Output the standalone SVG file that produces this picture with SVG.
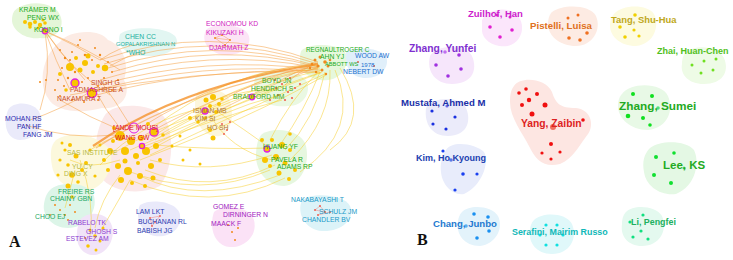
<svg xmlns="http://www.w3.org/2000/svg" width="733" height="260" viewBox="0 0 733 260">
<style>
text{font-family:"Liberation Sans",Arial,sans-serif}
.la{font-size:6.8px}
.lb{font-weight:bold}
.c{fill:none;stroke-width:0.75;opacity:0.7}
.o{stroke:#f5a040}
.y{stroke:#f8d030}
.yd{fill:#f8c400}
.od{fill:#f08a1c}
.rd{fill:#f06050}
.ring{fill:#f8c400;stroke:#e020e0;stroke-width:1.3}
.pan{font-family:"Liberation Serif","Times New Roman",serif;font-weight:bold;font-size:16px;fill:#111}
</style>
<rect width="733" height="260" fill="#fff"/>

<!-- Panel A blobs -->
<g id="blobsA">
<path d="M18,8 C30,0 55,2 60,15 C66,28 55,40 40,38 C25,40 12,30 12,20 C12,14 14,10 18,8Z" fill="#e4f6d8"/>
<path d="M120,34 C130,26 165,26 175,36 C182,46 170,56 150,56 C130,57 115,48 120,34Z" fill="#e2f6f2"/>
<path d="M60,42 C68,30 100,28 108,40 C122,45 130,62 124,80 C132,94 122,110 102,108 C82,114 55,112 48,98 C38,84 42,55 60,42Z" fill="#fcebe4"/>
<path d="M8,110 C14,100 36,102 40,114 C44,128 34,140 20,140 C8,140 2,126 8,110Z" fill="#eaeafa"/>
<path d="M105,115 C115,100 160,104 166,120 C175,140 172,170 160,186 C140,196 110,192 100,176 C92,160 95,130 105,115Z" fill="#fbe8e8"/>
<path d="M56,140 C70,130 100,135 110,150 C115,166 105,186 90,190 C70,192 55,182 52,166 C50,155 50,146 56,140Z" fill="#fcf8dc"/>
<path d="M50,190 C60,180 90,182 94,196 C98,212 85,228 68,228 C52,228 42,215 44,204 C45,197 47,193 50,190Z" fill="#dcf5e8"/>
<path d="M80,220 C88,210 108,212 112,226 C116,242 104,256 92,255 C80,254 72,240 80,220Z" fill="#f1e3f8"/>
<path d="M140,205 C152,198 178,202 180,215 C182,230 168,238 155,236 C142,234 134,218 140,205Z" fill="#e9e9fa"/>
<path d="M206,30 C214,22 242,24 248,34 C254,46 240,56 225,55 C210,54 200,42 206,30Z" fill="#fce4f6"/>
<path d="M198,92 C208,86 228,90 230,102 C234,114 232,132 220,136 C205,138 195,124 195,110 C195,102 195,96 198,92Z" fill="#fcf6dc"/>
<path d="M258,74 C270,68 298,70 306,80 C312,92 304,106 288,106 C270,108 255,100 254,88 C254,80 255,76 258,74Z" fill="#eaf8e2"/>
<path d="M302,50 C312,42 338,44 345,52 C350,62 344,78 328,80 C312,82 300,72 300,62 C300,56 300,52 302,50Z" fill="#e6f8dc"/>
<path d="M346,52 C356,46 380,48 386,56 C390,66 382,78 366,78 C352,78 344,68 346,52Z" fill="#e0effa"/>
<path d="M262,134 C275,126 302,130 306,146 C310,164 302,184 284,186 C266,186 256,170 256,156 C256,146 258,138 262,134Z" fill="#e6f7df"/>
<path d="M214,212 C224,204 250,206 254,220 C258,236 244,248 230,247 C216,246 208,230 214,212Z" fill="#fbe2f6"/>
<path d="M302,200 C312,192 344,194 350,206 C356,220 340,232 322,231 C306,230 296,214 302,200Z" fill="#dcf3f8"/>
</g>

<!-- Connectors -->
<g id="connectors">
<path class="c o" d="M100,60 Q210,22 318,62"/>
<path class="c o" d="M104,64 Q212,28 318,64"/>
<path class="c o" d="M108,68 Q214,34 318,66"/>
<path class="c o" d="M112,72 Q216,40 319,67"/>
<path class="c o" d="M100,80 Q210,46 318,68"/>
<path class="c o" d="M96,86 Q206,54 320,70"/>
<path class="c o" d="M90,92 Q200,60 320,72"/>
<path class="c o" d="M85,98 Q200,66 321,73"/>
<path class="c o" d="M70,95 Q190,70 318,70"/>
<path class="c o" d="M45,31 Q55,60 70,90"/>
<path class="c o" d="M45,31 Q62,55 85,80"/>
<path class="c o" d="M45,31 Q75,45 100,60"/>
<path class="c o" d="M45,31 Q52,75 40,110"/>
<path class="c o" d="M45,31 Q70,70 110,95"/>
<path class="c o" d="M45,31 Q90,50 120,70"/>
<path class="c o" d="M100,60 Q120,46 140,44"/>
<path class="c o" d="M110,66 Q126,56 146,50"/>
<path class="c o" d="M60,100 Q90,118 120,130"/>
<path class="c o" d="M120,128 Q105,110 95,90"/>
<path class="c o" d="M130,125 Q115,100 100,80"/>
<path class="c o" d="M30,120 Q60,110 90,92"/>
<path class="c o" d="M25,125 Q70,140 115,135"/>
<path class="c y" d="M150,130 Q230,68 318,65"/>
<path class="c y" d="M155,135 Q240,78 320,68"/>
<path class="c y" d="M150,140 Q240,88 322,70"/>
<path class="c y" d="M145,150 Q240,98 322,72"/>
<path class="c y" d="M150,155 Q250,108 325,74"/>
<path class="c y" d="M140,160 Q250,118 326,75"/>
<path class="c o" d="M140,128 Q225,74 316,63"/>
<path class="c o" d="M145,135 Q235,84 318,68"/>
<path class="c y" d="M130,150 Q235,104 320,73"/>
<path class="c y" d="M155,140 Q220,100 278,88"/>
<path class="c y" d="M150,150 Q220,110 280,95"/>
<path class="c y" d="M145,146 Q215,118 282,100"/>
<path class="c y" d="M155,145 Q210,150 270,148"/>
<path class="c y" d="M150,160 Q210,176 272,155"/>
<path class="c y" d="M145,170 Q210,196 275,165"/>
<path class="c y" d="M140,176 Q200,206 280,175"/>
<path class="c y" d="M130,180 Q210,215 285,178"/>
<path class="c y" d="M125,170 Q200,200 270,170"/>
<path class="c y" d="M320,72 Q305,110 280,145"/>
<path class="c y" d="M325,72 Q315,120 285,150"/>
<path class="c y" d="M330,70 Q332,120 290,160"/>
<path class="c y" d="M335,70 Q362,130 300,172"/>
<path class="c y" d="M340,68 Q372,120 330,150"/>
<path class="c y" d="M318,72 Q290,100 270,140"/>
<path class="c o" d="M315,65 Q260,76 215,105"/>
<path class="c o" d="M318,67 Q266,86 216,112"/>
<path class="c o" d="M318,62 Q300,70 285,85"/>
<path class="c o" d="M316,64 Q290,74 278,82"/>
<path class="c y" d="M215,110 Q245,130 270,148"/>
<path class="c y" d="M210,115 Q230,150 272,160"/>
<path class="c y" d="M215,100 Q250,88 278,90"/>
<path class="c y" d="M90,150 Q105,140 120,135"/>
<path class="c y" d="M120,175 Q100,200 95,228"/>
<path class="c y" d="M130,180 Q112,212 100,232"/>
<path class="c y" d="M75,170 Q70,190 65,208"/>
<path class="c y" d="M80,160 Q95,200 90,236"/>
<path class="c y" d="M120,160 Q90,170 70,160"/>
<path class="c y" d="M100,165 Q140,120 215,105"/>
<path class="c y" d="M110,155 Q160,125 210,112"/>
<path d="M93,146 Q180,86 318,64" fill="none" stroke="#f5922a" stroke-width="2.2" opacity="0.8"/>
<path d="M96,148 Q185,90 320,66" fill="none" stroke="#f7a848" stroke-width="1.2" opacity="0.65"/>
<path d="M215,38 L225,45 L230,40 L222,35 Z M215,38 L230,40" fill="none" stroke="#f0a060" stroke-width="0.5"/>
<path d="M150,218 L160,216 L152,226 Z" fill="none" stroke="#f08080" stroke-width="0.5"/>
<path d="M315,210 L325,212 L320,206 Z M318,215 L330,212" fill="none" stroke="#f08080" stroke-width="0.5"/>
</g>

<!-- Panel A nodes -->
<g id="nodesA">
<g id="n-kramer">
<circle class="yd" cx="25" cy="22" r="2"/><circle class="yd" cx="30" cy="24" r="2.3"/><circle class="yd" cx="35" cy="22" r="2"/><circle class="yd" cx="40" cy="25" r="2.2"/><circle class="yd" cx="45" cy="23" r="1.8"/><circle class="yd" cx="30" cy="27" r="1.8"/><circle class="yd" cx="38" cy="28" r="1.6"/><circle class="yd" cx="43" cy="20" r="1.6"/><circle class="ring" cx="45" cy="31" r="2.8"/>
</g>
<g id="n-singh">
<circle class="od" cx="60" cy="50" r="1"/><circle class="od" cx="65" cy="58" r="1.2"/><circle class="od" cx="72" cy="52" r="1"/><circle class="od" cx="78" cy="45" r="1"/><circle class="od" cx="85" cy="55" r="1.3"/><circle class="od" cx="70" cy="60" r="1"/><circle class="od" cx="62" cy="68" r="1"/><circle class="od" cx="75" cy="72" r="1.2"/><circle class="od" cx="92" cy="60" r="1"/><circle class="od" cx="95" cy="48" r="1"/><circle class="od" cx="100" cy="55" r="1.2"/><circle class="od" cx="58" cy="80" r="1"/><circle class="od" cx="64" cy="86" r="1"/><circle class="od" cx="68" cy="78" r="1.2"/><circle class="od" cx="82" cy="82" r="1"/><circle class="od" cx="88" cy="78" r="1"/><circle class="od" cx="98" cy="86" r="1"/><circle class="od" cx="104" cy="78" r="1"/><circle class="od" cx="108" cy="62" r="1"/><circle class="od" cx="112" cy="72" r="1"/><circle class="od" cx="55" cy="90" r="1"/><circle class="od" cx="60" cy="96" r="1"/><circle class="od" cx="72" cy="100" r="1"/><circle class="od" cx="84" cy="102" r="1"/><circle class="od" cx="98" cy="100" r="1"/><circle class="od" cx="112" cy="90" r="1"/><circle class="od" cx="46" cy="80" r="1"/><circle class="od" cx="40" cy="82" r="1"/><circle class="od" cx="80" cy="40" r="1"/><circle class="od" cx="118" cy="80" r="1"/>
<circle class="yd" cx="70" cy="67" r="4"/><circle class="yd" cx="80" cy="70" r="2.5"/><circle class="yd" cx="85" cy="63" r="3"/><circle class="yd" cx="105" cy="68" r="3.2"/><circle class="yd" cx="93" cy="72" r="2"/><circle class="yd" cx="60" cy="74" r="2"/><circle class="yd" cx="88" cy="56" r="2.5"/><circle class="yd" cx="98" cy="66" r="2"/><circle class="yd" cx="76" cy="58" r="2"/><circle class="yd" cx="66" cy="90" r="1.8"/>
<circle class="ring" cx="75" cy="83" r="4"/><circle class="ring" cx="92" cy="93" r="4.6"/>
</g>
<g id="n-ande">
<circle class="yd" cx="120" cy="136" r="5"/><circle class="yd" cx="131" cy="141" r="4"/><circle class="yd" cx="141" cy="138" r="3"/><circle class="yd" cx="125" cy="151" r="4"/><circle class="yd" cx="136" cy="156" r="3"/><circle class="yd" cx="146" cy="151" r="4"/><circle class="yd" cx="151" cy="166" r="3"/><circle class="yd" cx="118" cy="166" r="3"/><circle class="yd" cx="128" cy="171" r="4"/><circle class="yd" cx="140" cy="176" r="3"/><circle class="yd" cx="110" cy="151" r="3"/><circle class="yd" cx="156" cy="146" r="3"/><circle class="yd" cx="160" cy="160" r="2"/><circle class="yd" cx="114" cy="128" r="2"/><circle class="yd" cx="148" cy="124" r="2"/><circle class="yd" cx="132" cy="183" r="2"/><circle class="yd" cx="121" cy="180" r="3"/><circle class="yd" cx="108" cy="170" r="2"/><circle class="yd" cx="145" cy="186" r="2"/><circle class="yd" cx="113" cy="141" r="2"/><circle class="yd" cx="138" cy="163" r="2"/><circle class="yd" cx="153" cy="178" r="2.5"/><circle class="yd" cx="125" cy="161" r="2.5"/><circle class="yd" cx="104" cy="160" r="2"/><circle class="yd" cx="163" cy="135" r="1.8"/>
<circle class="ring" cx="154" cy="132" r="4.2"/><circle class="ring" cx="142" cy="146" r="2.6"/><circle cx="134" cy="128" r="5" fill="none" stroke="#e020e0" stroke-width="1"/>
</g>
<g id="n-sas">
<circle class="yd" cx="65" cy="150" r="1.6"/><circle class="yd" cx="70" cy="145" r="2"/><circle class="yd" cx="76" cy="156" r="2.5"/><circle class="yd" cx="60" cy="160" r="1.6"/><circle class="yd" cx="68" cy="165" r="1.8"/><circle class="yd" cx="82" cy="170" r="2"/><circle class="yd" cx="72" cy="175" r="2.8"/><circle class="yd" cx="86" cy="163" r="2"/><circle class="yd" cx="90" cy="150" r="1.6"/><circle class="yd" cx="58" cy="175" r="1.6"/><circle class="yd" cx="95" cy="176" r="1.6"/><circle class="yd" cx="78" cy="182" r="1.8"/><circle class="yd" cx="68" cy="186" r="2.5"/><circle class="yd" cx="100" cy="145" r="1.5"/><circle class="yd" cx="62" cy="143" r="1.5"/>
</g>
<g id="n-freire">
<circle class="yd" cx="72" cy="197" r="1.8"/><circle class="od" cx="60" cy="210" r="1"/><circle class="od" cx="65" cy="215" r="1"/><circle class="od" cx="70" cy="205" r="1"/><circle class="od" cx="75" cy="212" r="1"/><circle class="od" cx="55" cy="205" r="1"/><circle class="od" cx="50" cy="215" r="1"/><circle class="od" cx="68" cy="220" r="1"/>
</g>
<g id="n-rabelo">
<circle class="yd" cx="90" cy="230" r="1.5"/><circle class="yd" cx="95" cy="236" r="1.8"/><circle class="yd" cx="100" cy="241" r="1.5"/><circle class="yd" cx="88" cy="246" r="1.8"/><circle class="yd" cx="96" cy="250" r="1.5"/><circle class="yd" cx="103" cy="228" r="1.5"/><circle class="od" cx="85" cy="238" r="1"/>
</g>
<g id="n-lam"><circle class="rd" cx="150" cy="218" r="0.9"/><circle class="rd" cx="155" cy="222" r="0.9"/><circle class="rd" cx="160" cy="216" r="0.9"/><circle class="rd" cx="152" cy="226" r="0.9"/></g>
<g id="n-econ"><circle class="od" cx="215" cy="38" r="1"/><circle class="od" cx="222" cy="35" r="1"/><circle class="od" cx="230" cy="40" r="1"/><circle class="od" cx="225" cy="45" r="1"/></g>
<g id="n-isman">
<circle class="yd" cx="206" cy="100" r="2.5"/><circle class="yd" cx="213" cy="97" r="3"/><circle class="yd" cx="219" cy="104" r="2"/><circle class="yd" cx="210" cy="106" r="2"/><circle class="yd" cx="216" cy="112" r="2"/><circle class="yd" cx="222" cy="99" r="1.8"/><circle class="ring" cx="205" cy="111" r="3"/>
<circle class="yd" cx="205" cy="118" r="1.8"/><circle class="yd" cx="198" cy="122" r="1.8"/><circle class="yd" cx="190" cy="118" r="2"/><circle class="yd" cx="210" cy="130" r="2"/><circle class="yd" cx="180" cy="136" r="1.5"/><circle class="yd" cx="190" cy="150" r="1.5"/><circle class="yd" cx="200" cy="164" r="1.5"/><circle class="yd" cx="172" cy="146" r="1.5"/><circle class="yd" cx="183" cy="160" r="1.5"/><circle class="yd" cx="213" cy="138" r="2.5"/>
<circle class="rd" cx="222" cy="124" r="1"/><circle class="rd" cx="227" cy="130" r="1"/><circle class="rd" cx="230" cy="122" r="1"/><circle class="rd" cx="224" cy="134" r="1"/>
</g>
<g id="n-boyd">
<circle class="rd" cx="275" cy="80" r="1.1"/><circle class="rd" cx="282" cy="84" r="1.1"/><circle class="rd" cx="290" cy="78" r="1.1"/><circle class="rd" cx="288" cy="92" r="1.1"/><circle class="rd" cx="295" cy="88" r="1.1"/><circle class="rd" cx="278" cy="95" r="1.1"/><circle class="rd" cx="285" cy="100" r="1.1"/><circle class="rd" cx="270" cy="100" r="1.1"/><circle class="rd" cx="292" cy="98" r="1.1"/><circle class="rd" cx="300" cy="84" r="1.1"/><circle class="rd" cx="276" cy="88" r="1.1"/>
<circle class="ring" cx="252" cy="97" r="2.8"/>
</g>
<g id="n-abbott">
<circle class="od" cx="315" cy="60" r="1.5"/><circle class="od" cx="320" cy="57" r="1.5"/><circle class="od" cx="325" cy="62" r="1.8"/><circle class="od" cx="318" cy="66" r="1.5"/><circle class="od" cx="322" cy="70" r="1.5"/><circle class="od" cx="328" cy="66" r="1.5"/><circle class="od" cx="312" cy="64" r="1.3"/><circle class="od" cx="330" cy="60" r="1.3"/><circle class="od" cx="316" cy="72" r="1.2"/><circle class="od" cx="326" cy="74" r="1.2"/><circle class="od" cx="310" cy="68" r="1.2"/>
<circle class="rd" cx="358" cy="62" r="1"/><circle class="rd" cx="374" cy="66" r="1"/>
</g>
<g id="n-huang">
<circle class="yd" cx="272" cy="140" r="2"/><circle class="yd" cx="282" cy="145" r="3"/><circle class="yd" cx="276" cy="157" r="3"/><circle class="yd" cx="290" cy="150" r="2"/><circle class="yd" cx="285" cy="163" r="2.5"/><circle class="yd" cx="270" cy="166" r="2"/><circle class="yd" cx="295" cy="170" r="2"/><circle class="yd" cx="279" cy="173" r="2.5"/><circle class="yd" cx="289" cy="179" r="2"/><circle class="yd" cx="265" cy="160" r="3"/><circle class="yd" cx="262" cy="140" r="2"/><circle class="yd" cx="290" cy="134" r="1.8"/><circle class="ring" cx="267" cy="149" r="3"/>
</g>
<g id="n-gomez"><circle class="od" cx="228" cy="225" r="1"/><circle class="od" cx="232" cy="232" r="1"/><circle class="od" cx="238" cy="228" r="1"/><circle class="od" cx="235" cy="240" r="1"/></g>
<g id="n-naka"><circle class="rd" cx="315" cy="210" r="1"/><circle class="rd" cx="320" cy="206" r="1"/><circle class="rd" cx="325" cy="212" r="1"/><circle class="rd" cx="318" cy="215" r="1"/><circle class="rd" cx="330" cy="212" r="1"/></g>
</g>

<!-- Panel A labels -->
<g id="labelsA" class="la">
<text x="19" y="12" fill="#22aa22">KRÄMER M</text>
<text x="27" y="19.5" fill="#22aa22">PENG WX</text>
<text x="34" y="31.5" fill="#22aa22">KOUNO I</text>
<text x="125" y="38.5" fill="#20b0a0">CHEN CC</text>
<text x="116" y="45.5" fill="#20b0a0" font-size="5.8">GOPALAKRISHNAN N</text>
<text x="126" y="54.5" fill="#20b0a0">*WHO</text>
<text x="91" y="84.5" fill="#c8501e">SINGH G</text>
<text x="70" y="91.5" fill="#c8501e">PADMASHREE A</text>
<text x="57" y="100.5" fill="#c8501e">NAKAMURA T</text>
<text x="5" y="120.5" fill="#2a2ab0">MOHAN RS</text>
<text x="17" y="128.5" fill="#2a2ab0">PAN HF</text>
<text x="23" y="136.5" fill="#2a2ab0">FANG JM</text>
<text x="113" y="129.5" fill="#e0102a">[ANDE MOUS]</text>
<text x="115" y="139.5" fill="#e0102a">WANG GW</text>
<text x="67" y="154.5" fill="#b8b840">SAS INSTITUTE</text>
<text x="72" y="168.5" fill="#b8b840">YU CY</text>
<text x="64" y="175.5" fill="#b8b840">DING X</text>
<text x="58" y="193.5" fill="#20a860">FREIRE RS</text>
<text x="50" y="200.5" fill="#20a860">CHAINY GBN</text>
<text x="35" y="218.5" fill="#20a860">CHOO EJ</text>
<text x="68" y="224.5" fill="#8a3ad0">RABELO TK</text>
<text x="86" y="233.5" fill="#8a3ad0">GHOSH S</text>
<text x="66" y="240.5" fill="#8a3ad0">ESTEVEZ AM</text>
<text x="136" y="213.5" fill="#2a3ab0">LAM LKT</text>
<text x="138" y="223.5" fill="#2a3ab0">BUCHANAN RL</text>
<text x="137" y="232.5" fill="#2a3ab0">BABISH JG</text>
<text x="206" y="25.5" fill="#d020c0">ECONOMOU KD</text>
<text x="206" y="34.5" fill="#d020c0">KIKUZAKI H</text>
<text x="209" y="49.5" fill="#d020c0">DJARMATI Z</text>
<text x="306" y="51.5" fill="#20aa20" font-size="6.3">REGNAULTROGER C</text>
<text x="320" y="59" fill="#20aa20">AHN YJ</text>
<text x="325" y="66" fill="#20aa20" font-size="5.7">ABBOTT WS</text>
<text x="361" y="66.5" fill="#2070d0" font-size="6">1978</text>
<text x="355" y="58" fill="#2070d0">WOOD AW</text>
<text x="343" y="73.5" fill="#2070d0">NEBERT DW</text>
<text x="262" y="82.5" fill="#40aa20">BOYD JN</text>
<text x="251" y="90.5" fill="#40aa20">HENDRICH S</text>
<text x="233" y="98.5" fill="#40aa20">BRADFORD MM</text>
<text x="193" y="112.5" fill="#b07830">ISMAN MB</text>
<text x="195" y="120.5" fill="#b07830">KIM SI</text>
<text x="207" y="129.5" fill="#b07830">HO SH</text>
<text x="263" y="148.5" fill="#20a820">HUANG YF</text>
<text x="271" y="161.5" fill="#20a820">PAVELA R</text>
<text x="277" y="168.5" fill="#20a820">ADAMS RP</text>
<text x="213" y="208.5" fill="#a020c0">GOMEZ E</text>
<text x="223" y="216.5" fill="#a020c0">DIRNINGER N</text>
<text x="211" y="225.5" fill="#a020c0">MAACK F</text>
<text x="291" y="201.5" fill="#1a9ac8">NAKABAYASHI T</text>
<text x="319" y="213.5" fill="#1a9ac8">SCHULZ JM</text>
<text x="302" y="221.5" fill="#1a9ac8">CHANDLER BV</text>
</g>
<text class="pan" x="9" y="247">A</text>

<!-- Panel B -->
<g id="b-zuilhof">
<path d="M482,20 C488,8 510,6 518,16 C526,26 522,42 508,46 C494,48 482,40 482,30Z" fill="#fbe6fb"/>
<g fill="#e020d0"><circle cx="490" cy="27" r="1.8"/><circle cx="500" cy="37" r="1.8"/><circle cx="512" cy="30" r="1.8"/><circle cx="510" cy="17" r="1.5"/><circle cx="497" cy="15" r="1.5"/></g>
<text class="lb" x="468" y="17" font-size="9.5" fill="#cc22cc">Zuilhof, Han</text>
</g>
<g id="b-pistelli">
<path d="M552,12 C562,4 590,4 596,16 C602,30 592,46 576,46 C560,46 548,36 548,24 C548,18 550,14 552,12Z" fill="#fdebe3"/>
<g fill="#f07020"><circle cx="568" cy="18" r="1.5"/><circle cx="578" cy="15" r="1.5"/><circle cx="587" cy="33" r="1.8"/><circle cx="580" cy="40" r="1.8"/><circle cx="569" cy="38" r="1.8"/></g>
<text class="lb" x="530" y="29" font-size="9.7" fill="#e07020">Pistelli, Luisa</text>
</g>
<g id="b-tang">
<path d="M614,14 C622,4 648,4 654,14 C660,26 654,44 636,46 C620,46 610,36 610,26 C610,20 612,16 614,14Z" fill="#fdfbe0"/>
<g fill="#f0d000"><circle cx="620" cy="27" r="1.8"/><circle cx="635" cy="15" r="1.8"/><circle cx="634" cy="30" r="1.6"/><circle cx="625" cy="37" r="1.8"/><circle cx="639" cy="36" r="1.6"/></g>
<text x="611" y="23" font-size="9.4" fill="#c0a820" font-weight="bold">Tang, Shu-Hua</text>
</g>
<g id="b-zhai">
<path d="M686,52 C696,44 718,46 724,58 C730,72 722,84 704,84 C688,84 680,74 682,64 C682,58 684,54 686,52Z" fill="#eefbe6"/>
<g fill="#70e020"><circle cx="692" cy="65" r="1.5"/><circle cx="704" cy="61" r="1.5"/><circle cx="716" cy="59" r="1.5"/><circle cx="713" cy="70" r="1.5"/><circle cx="701" cy="73" r="1.5"/></g>
<text class="lb" x="657" y="54" font-size="9" fill="#50c020">Zhai, Huan-Chen</text>
</g>
<g id="b-zhangy">
<path d="M430,56 C436,44 466,44 472,56 C478,70 472,84 452,84 C436,84 426,72 430,56Z" fill="#f6e6fb"/>
<g fill="#a030e0"><circle cx="436" cy="65" r="1.8"/><circle cx="459" cy="55" r="1.8"/><circle cx="461" cy="69" r="1.8"/><circle cx="448" cy="76" r="1.8"/><circle cx="445" cy="52" r="1.8" fill="#c070f0"/></g>
<text class="lb" x="409" y="52" font-size="10.3" fill="#8030d0">Zhang, Yunfei</text>
</g>
<g id="b-mustafa">
<path d="M426,108 C432,96 462,96 466,108 C472,122 466,136 448,136 C432,136 424,124 426,108Z" fill="#ebebfa"/>
<g fill="#1a30e0"><circle cx="432" cy="111" r="1.6"/><circle cx="455" cy="117" r="1.6"/><circle cx="433" cy="124" r="1.6"/><circle cx="446" cy="129" r="1.6"/><circle cx="447" cy="106" r="1.6" fill="#6a6ae8"/></g>
<text class="lb" x="401" y="106" font-size="9.6" fill="#1a2fa8">Mustafa, Ahmed M</text>
</g>
<g id="b-kim">
<path d="M446,150 C452,140 476,144 484,152 C490,162 482,186 464,194 C452,196 442,184 441,172 C440,164 442,156 446,150Z" fill="#e8ecfb"/>
<g fill="#1a40f0"><circle cx="443" cy="151" r="1.6"/><circle cx="451" cy="160" r="1.8" fill="#5a7ae8"/><circle cx="463" cy="174" r="1.8"/><circle cx="477" cy="174" r="1.6"/><circle cx="455" cy="190" r="1.6"/></g>
<text class="lb" x="416" y="161" font-size="9" fill="#2040b0">Kim, Ho Kyoung</text>
</g>
<g id="b-chang">
<path d="M462,212 C470,204 492,206 498,216 C504,228 496,244 480,246 C464,246 456,234 458,222 C458,218 460,214 462,212Z" fill="#e3f3fb"/>
<g fill="#1a90f0"><circle cx="474" cy="214" r="1.8"/><circle cx="488" cy="217" r="1.8"/><circle cx="466" cy="226" r="1.8" fill="#5ab0f0"/><circle cx="489" cy="231" r="1.8"/><circle cx="477" cy="238" r="1.8"/></g>
<text class="lb" x="433" y="227" font-size="9.6" fill="#1e7ad0">Chang, Junbo</text>
</g>
<text class="pan" x="417" y="245">B</text>
<g id="b-serafini">
<path d="M534,220 C542,212 566,212 572,224 C578,238 570,254 552,254 C536,254 528,242 530,230 C530,226 532,222 534,220Z" fill="#e0f8fa"/>
<g fill="#10e0e0"><circle cx="546" cy="225" r="1.6"/><circle cx="557" cy="225" r="1.6"/><circle cx="540" cy="235" r="1.6"/><circle cx="563" cy="235" r="1.6"/><circle cx="546" cy="245" r="1.6"/><circle cx="557" cy="245" r="1.6"/></g>
<text class="lb" x="512" y="235" font-size="8.9" fill="#10b8b8">Serafini, Mairim Russo</text>
</g>
<g id="b-li">
<path d="M626,212 C634,204 656,206 662,216 C668,230 660,246 642,246 C628,246 620,236 622,224 C622,218 624,214 626,212Z" fill="#e4f9ef"/>
<g fill="#10e080"><circle cx="643" cy="215" r="1.6"/><circle cx="630" cy="222" r="1.6"/><circle cx="641" cy="231" r="1.6"/><circle cx="633" cy="237" r="1.6"/><circle cx="648" cy="239" r="1.6"/></g>
<text class="lb" x="631" y="225" font-size="8.9" fill="#20b060">Li, Pengfei</text>
</g>
<g id="b-lee">
<path d="M650,148 C660,140 686,140 694,150 C700,162 696,186 676,194 C660,196 646,186 644,172 C642,162 644,154 650,148Z" fill="#e4f8e4"/>
<g fill="#10e030"><circle cx="656" cy="157" r="2"/><circle cx="674" cy="153" r="1.8"/><circle cx="654" cy="175" r="2"/><circle cx="671" cy="183" r="2"/><circle cx="684" cy="168" r="1.6" fill="#60e080"/></g>
<text class="lb" x="663" y="169" font-size="11.5" fill="#22aa22">Lee, KS</text>
</g>
<g id="b-zhangs">
<path d="M622,94 C630,82 662,82 668,96 C674,110 668,128 648,130 C630,130 618,118 618,106 C618,100 620,96 622,94Z" fill="#e8f9e6"/>
<g fill="#10e020"><circle cx="633" cy="94" r="2"/><circle cx="652" cy="96" r="2"/><circle cx="628" cy="116" r="2.3"/><circle cx="643" cy="118" r="2"/><circle cx="650" cy="125" r="1.8"/><circle cx="658" cy="108" r="1.8" fill="#50e080"/></g>
<text class="lb" x="619" y="110" font-size="11.8" fill="#22aa22">Zhang, Sumei</text>
</g>
<g id="b-yang">
<path d="M514,86 C520,76 546,78 552,92 C556,104 560,108 576,108 C592,110 594,126 588,134 C580,144 574,158 560,164 C544,168 536,160 530,148 C522,132 510,118 510,102 C510,94 511,90 514,86Z" fill="#fde6e2"/>
<g fill="#f01010"><circle cx="519" cy="93" r="1.8"/><circle cx="526" cy="89" r="1.8"/><circle cx="537" cy="94" r="2"/><circle cx="529" cy="100" r="2.2"/><circle cx="522" cy="105" r="2"/><circle cx="545" cy="105" r="2.5"/><circle cx="532" cy="114" r="2.5"/><circle cx="583" cy="120" r="1.8"/><circle cx="553" cy="127" r="3" fill="#f07060"/><circle cx="551" cy="144" r="2"/><circle cx="542" cy="153" r="1.6"/><circle cx="560" cy="152" r="1.6"/><circle cx="551" cy="159" r="1.6"/></g>
<text class="lb" x="521" y="127" font-size="10.3" fill="#dd2222">Yang, Zaibin</text>
</g>
</svg>
